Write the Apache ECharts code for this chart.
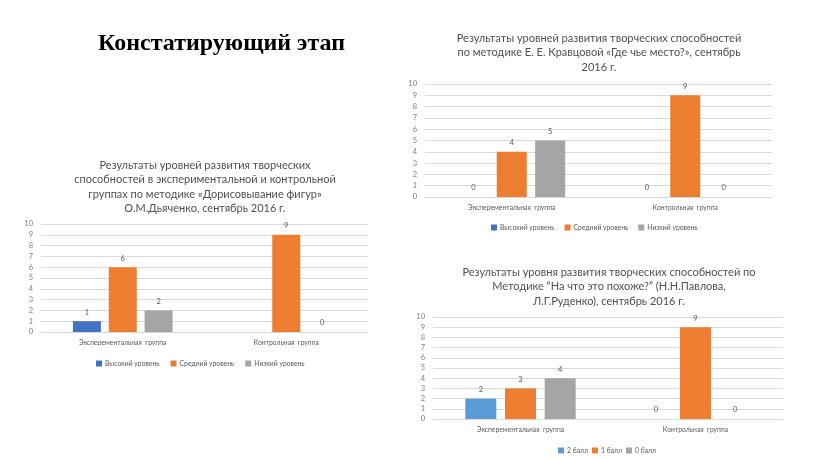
<!DOCTYPE html>
<html><head><meta charset="utf-8">
<script src="https://cdn.jsdelivr.net/npm/echarts@6/dist/echarts.min.js"></script>
<style>html,body{margin:0;padding:0;background:#fff}#c{width:816px;height:459px}</style>
</head><body><div id="c"></div>
<script>
const mainTitle = "Констатирующий этап";
const categories = ["Эксперементальная  группа", "Контрольная  группа"];
const yTicks = [0,1,2,3,4,5,6,7,8,9,10];

const title1 = "Результаты уровней развития творческих\nспособностей в экспериментальной и контрольной\nгруппах по методике «Дорисовывание фигур»\nО.М.Дьяченко, сентябрь 2016 г.";
const names1 = ["Высокий уровень", "Средний уровень", "Низкий уровень"];
const high1 = [1, null];
const mid1 = [6, 9];
const low1 = [2, 0];

const title2 = "Результаты уровней развития творческих способностей\nпо методике Е. Е. Кравцовой «Где чье место?», сентябрь\n2016 г.";
const names2 = ["Высокий уровень", "Средний уровень", "Низкий уровень"];
const high2 = [0, 0];
const mid2 = [4, 9];
const low2 = [5, 0];

const title3 = "Результаты уровня развития творческих способностей по\nМетодике “На что это похоже?” (Н.Н.Павлова,\nЛ.Г.Руденко), сентябрь 2016 г.";
const names3 = ["2 балл", "1 балл", "0 балл"];
const s2ball = [2, 0];
const s1ball = [3, 9];
const s0ball = [4, 0];

const FONT = "Lato";
const txt = "#595959";
const gridLine = "#D9D9D9";

const grids = [
  {left: 41, right: 816-368, top: 224, bottom: 459-332},
  {left: 425, right: 816-772, top: 84, bottom: 459-197},
  {left: 433, right: 816-783, top: 317, bottom: 459-419}
];
const xAxes = grids.map((g,i)=>({
  type:'category', gridIndex:i, data:categories,
  axisLine:{lineStyle:{color:gridLine}}, axisTick:{show:false},
  axisLabel:{color:txt, fontSize:6.8, fontFamily:FONT, margin:7}
}));
const yAxes = grids.map((g,i)=>({
  type:'value', gridIndex:i, min:yTicks[0], max:yTicks[yTicks.length-1], interval:1,
  axisLine:{show:false}, axisTick:{show:false},
  splitLine:{lineStyle:{color:gridLine}},
  axisLabel:{color:'#7f7f7f', fontSize:7.5, fontFamily:FONT, margin:8}
}));

function ser(name, data, color, idx, bw){
  return {
    type:'bar', name, data, xAxisIndex:idx, yAxisIndex:idx,
    barWidth:bw, barGap:'28%',
    itemStyle:{color},
    label:{show:true, position:'top', color:txt, fontSize:7.5, fontFamily:FONT, distance:5}
  };
}
const series = [
  ser(names1[0], high1, '#4472C4', 0, 28),
  ser(names1[1], mid1, '#ED7D31', 0, 28),
  ser(names1[2], low1, '#A5A5A5', 0, 28),
  ser(names2[0], high2, '#5B9BD5', 1, 30),
  ser(names2[1], mid2, '#ED7D31', 1, 30),
  ser(names2[2], low2, '#A5A5A5', 1, 30),
  ser(names3[0], s2ball, '#5B9BD5', 2, 31),
  ser(names3[1], s1ball, '#ED7D31', 2, 31),
  ser(names3[2], s0ball, '#A5A5A5', 2, 31)
];
const tStyle = {color:'#505050', fontSize:11, fontFamily:FONT, fontWeight:'normal', lineHeight:14.5};
const legendText = {color:txt, fontSize:6.8, fontFamily:FONT, padding:[0,0,0,-2]};
const legendBase = {icon:'rect', itemWidth:6, itemHeight:6, textStyle:legendText, selectedMode:false};

const chart = echarts.init(document.getElementById('c'), null, {renderer:'canvas'});
chart.setOption({
  animation:false,
  backgroundColor:'#fff',
  title:[
    {text:mainTitle, left:93, top:27, textStyle:{color:'#000', fontSize:24, fontFamily:'Liberation Serif', fontWeight:'bold'}},
    {text:title1, left:200, top:153, textAlign:'center', textStyle:tStyle},
    {text:title2, left:594, top:26, textAlign:'center', textStyle:tStyle},
    {text:title3, left:604, top:260, textAlign:'center', textStyle:tStyle}
  ],
  legend:[
    Object.assign({data:names1, top:355, left:91, itemGap:11}, legendBase),
    Object.assign({data:names2, top:219, left:486, itemGap:10}, legendBase),
    Object.assign({data:names3, top:442, left:553, itemGap:4}, legendBase)
  ],
  grid:grids,
  xAxis:xAxes,
  yAxis:yAxes,
  series
});
</script></body></html>
